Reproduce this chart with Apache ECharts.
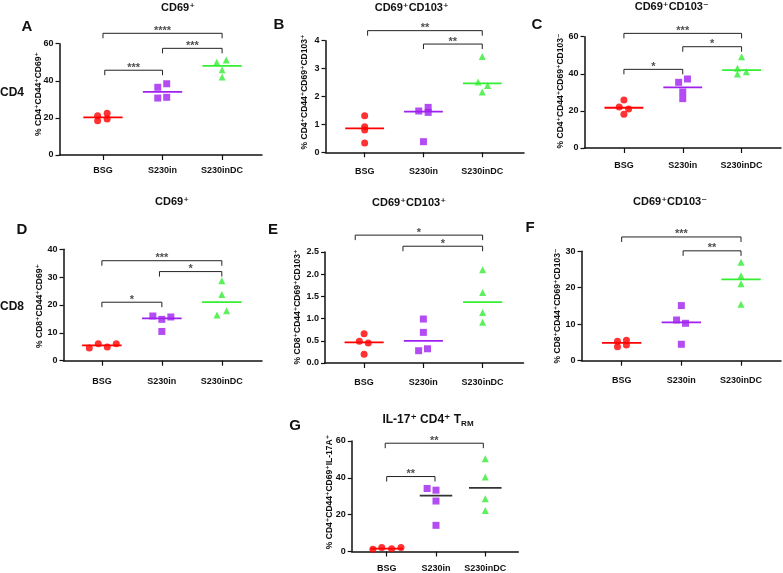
<!DOCTYPE html>
<html>
<head>
<meta charset="utf-8">
<script src="https://cdn.jsdelivr.net/npm/echarts@6/dist/echarts.min.js"></script>
<style>html,body{margin:0;padding:0;background:#fff}#c{width:783px;height:573px}</style>
</head>
<body>
<div id="c"></div>
<script>
// ---------- DATA ----------
const categories = ['BSG', 'S230in', 'S230inDC'];

// Panel A : CD4 CD69+
const aBSG = [21.2, 22.5, 18.5, 19.4];
const aS230in = [36.5, 38.4, 30.7, 31.1];
const aS230inDC = [50.0, 51.2, 46.0, 42.0];
const aMedians = [20.3, 34.0, 48.0];
const aTicks = [0, 20, 40, 60];
const aStats = [[1, 3, 65.6, '****'], [2, 3, 57.5, '***'], [1.03, 2, 45.7, '***']];

// Panel B : CD4 CD69+CD103+
const bBSG = [1.31, 0.92, 0.80, 0.33];
const bS230in = [1.48, 1.61, 1.43, 0.38];
const bS230inDC = [3.43, 2.52, 2.39, 2.16];
const bMedians = [0.86, 1.46, 2.47];
const bTicks = [0, 1, 2, 3, 4];
const bStats = [[1.05, 3, 4.36, '**'], [2, 3, 3.88, '**']];

// Panel C : CD4 CD69+CD103-
const cBSG = [22.1, 21.0, 25.9, 18.2];
const cS230in = [35.4, 37.2, 30.2, 26.6];
const cS230inDC = [49.2, 43.0, 41.1, 39.9];
const cMedians = [21.7, 32.7, 42.0];
const cTicks = [0, 20, 40, 60];
const cStats = [[1, 3, 61.8, '***'], [2, 3, 54.6, '*'], [1, 2, 42.4, '*']];

// Panel D : CD8 CD69+
const dBSG = [4.56, 6.1, 4.9, 6.1];
const dS230in = [16.05, 14.85, 15.7, 10.5];
const dS230inDC = [28.7, 23.8, 16.4, 17.95];
const dMedians = [5.5, 15.2, 21.0];
const dTicks = [0, 10, 20, 30, 40];
const dStats = [[1, 3, 35.9, '***'], [1.96, 3, 32.0, '*'], [1, 2, 21.0, '*']];

// Panel E : CD8 CD69+CD103+
const eBSG = [0.66, 0.49, 0.45, 0.196];
const eS230in = [0.99, 0.69, 0.277, 0.32];
const eS230inDC = [2.10, 1.59, 1.14, 0.92];
const eMedians = [0.466, 0.50, 1.37];
const eTicks = [0, 0.5, 1.0, 1.5, 2.0, 2.5];
const eStats = [[0.85, 3, 2.88, '*'], [1.656, 3, 2.63, '*']];

// Panel F : CD8 CD69+CD103-
const fBSG = [5.3, 5.6, 3.85, 4.3];
const fS230in = [15.1, 11.15, 10.25, 4.5];
const fS230inDC = [27.0, 23.3, 21.1, 15.45];
const fMedians = [4.9, 10.5, 22.3];
const fTicks = [0, 10, 20, 30];
const fStats = [[1, 3, 33.9, '***'], [2.03, 3, 30.1, '**']];

// Panel G : IL-17+ CD4+ TRM
const gBSG = [1.26, 2.16, 1.44, 2.16];
const gS230in = [34.2, 33.3, 27.4, 14.2];
const gS230inDC = [50.4, 40.4, 28.6, 22.3];
const gMedians = [1.6, 30.3, 34.6];
const gTicks = [0, 20, 40, 60];
const gStats = [[0.97, 2.96, 58.8, '**'], [1, 1.98, 40.7, '**']];

// horizontal spread of the dots inside each group (category units)
const aSpread = [[-0.09, 0.07, -0.09, 0.07], [-0.08, 0.07, -0.08, 0.07], [-0.09, 0.07, 0, 0]];
const bSpread = [[0, 0, 0, 0], [-0.08, 0.08, 0.08, 0], [0, -0.07, 0.09, 0]];
const cSpread = [[-0.08, 0.08, 0, 0], [-0.07, 0.08, 0, 0], [0, -0.07, 0.08, -0.07]];
const dSpread = [[-0.21, -0.06, 0.09, 0.24], [-0.15, 0, 0.15, 0], [0, 0, -0.08, 0.08]];
const eSpread = [[0, -0.08, 0.07, 0], [0, 0, -0.08, 0.07], [0, 0, 0, 0]];
const fSpread = [[-0.07, 0.08, -0.07, 0.08], [0, -0.08, 0.07, 0], [0, 0, 0, 0]];
const gSpread = [[-0.28, -0.10, 0.10, 0.29], [-0.18, 0, 0, 0], [0, 0, 0, 0]];

// ---------- LAYOUT ----------
const FONT = '"Liberation Sans", Arial, "DejaVu Sans", sans-serif';
const groupColors = ['#ff0000', '#a020f0', '#33ee33'];
const groupSymbols = ['circle', 'rect', 'triangle'];

const panels = [
  {groups: [aBSG, aS230in, aS230inDC], med: aMedians, ticks: aTicks, stats: aStats, spread: aSpread,
   x0: 59.5, x1: 262, y0: 43.7, y1: 155, xmin: 0.27, xmax: 3.67, lm: 11, dec: 0},
  {groups: [bBSG, bS230in, bS230inDC], med: bMedians, ticks: bTicks, stats: bStats, spread: bSpread,
   x0: 325.5, x1: 524, y0: 40.7, y1: 152.3, xmin: 0.334, xmax: 3.71, lm: 15, dec: 0},
  {groups: [cBSG, cS230in, cS230inDC], med: cMedians, ticks: cTicks, stats: cStats, spread: cSpread,
   x0: 584.5, x1: 781, y0: 36.7, y1: 148, xmin: 0.33, xmax: 3.67, lm: 13, dec: 0},
  {groups: [dBSG, dS230in, dS230inDC], med: dMedians, ticks: dTicks, stats: dStats, spread: dSpread,
   x0: 63.5, x1: 262, y0: 249.3, y1: 360.7, xmin: 0.36, xmax: 3.67, lm: 16, dec: 0},
  {groups: [eBSG, eS230in, eS230inDC], med: eMedians, ticks: eTicks, stats: eStats, spread: eSpread,
   x0: 325, x1: 523.5, y0: 252, y1: 363, xmin: 0.34, xmax: 3.69, lm: 15.5, dec: 1},
  {groups: [fBSG, fS230in, fS230inDC], med: fMedians, ticks: fTicks, stats: fStats, spread: fSpread,
   x0: 581.5, x1: 781, y0: 251.2, y1: 360.7, xmin: 0.327, xmax: 3.67, lm: 15.5, dec: 0},
  {groups: [gBSG, gS230in, gS230inDC], med: gMedians, ticks: gTicks, stats: gStats, spread: gSpread,
   x0: 351.7, x1: 518.3, y0: 441, y1: 552, xmin: 0.29, xmax: 3.67, lm: 12.5, dec: 0,
   medColors: ['#ff0000', '#333333', '#333333']}
];

const grid = [], xAxis = [], yAxis = [], series = [];
panels.forEach((p, i) => {
  const ymin = p.ticks[0], ymax = p.ticks[p.ticks.length - 1];
  const hPx = p.y1 - p.y0;
  grid.push({left: p.x0, top: p.y0, width: p.x1 - p.x0, height: hPx});
  xAxis.push({
    gridIndex: i, type: 'value', min: p.xmin, max: p.xmax,
    axisLine: {show: true, lineStyle: {color: '#111', width: 1.5}},
    axisTick: {show: true, customValues: [1, 2, 3], length: 5, lineStyle: {color: '#111', width: 1.2}},
    axisLabel: {customValues: [1, 2, 3], formatter: v => categories[Math.round(v) - 1],
      margin: p.lm, fontSize: 9, fontWeight: 'bold', color: '#111', fontFamily: FONT},
    splitLine: {show: false}
  });
  yAxis.push({
    gridIndex: i, type: 'value', min: ymin, max: ymax, interval: p.ticks[1] - p.ticks[0],
    axisLine: {show: true, lineStyle: {color: '#111', width: 1.5}},
    axisTick: {show: true, length: 4, lineStyle: {color: '#111', width: 1.2}},
    axisLabel: {margin: 6, fontSize: 9, fontWeight: 'bold', color: '#111', fontFamily: FONT,
      formatter: v => v.toFixed(p.dec)},
    splitLine: {show: false}
  });
  // dots
  p.groups.forEach((vals, g) => {
    series.push({
      type: 'scatter', xAxisIndex: i, yAxisIndex: i, symbol: groupSymbols[g], symbolSize: g === 0 ? 7 : 7,
      itemStyle: {color: groupColors[g]}, silent: true, z: 3,
      data: vals.map((v, k) => [g + 1 + p.spread[g][k], v])
    });
  });
  // median lines
  p.med.forEach((m, g) => {
    series.push({
      type: 'line', xAxisIndex: i, yAxisIndex: i, symbol: 'none', silent: true, z: 2,
      lineStyle: {color: (p.medColors || groupColors)[g], width: 1.8},
      data: [[g + 1 - 0.33, m], [g + 1 + 0.33, m]]
    });
  });
  // significance brackets
  const drop = 5 * (ymax - ymin) / hPx;
  p.stats.forEach(s => {
    series.push({
      type: 'line', xAxisIndex: i, yAxisIndex: i, symbol: 'none', silent: true, clip: false,
      lineStyle: {color: '#222', width: 1}, z: 2,
      data: [[s[0], s[2] - drop], [s[0], s[2]], [s[1], s[2]], [s[1], s[2] - drop]]
    });
    series.push({
      type: 'scatter', xAxisIndex: i, yAxisIndex: i, symbolSize: 0, silent: true, clip: false,
      label: {show: true, position: 'top', distance: -3, formatter: s[3], fontSize: 11,
        color: '#222', fontFamily: FONT, fontWeight: 'bold'},
      data: [[(s[0] + s[1]) / 2, s[2]]]
    });
  });
});

// ---------- TEXT ----------
function txt(text, x, y, font, rot) {
  return {type: 'text', x: x, y: y, rotation: rot || 0, silent: true,
    style: {text: text, fill: '#111', font: font, textAlign: 'center', textVerticalAlign: 'middle'}};
}
const titleFont = 'bold 11px ' + FONT;
const letterFont = 'bold 15px ' + FONT;
const yNameFont = 'bold 8.5px ' + FONT;
const graphic = [
  txt('CD69⁺', 178, 8, titleFont),
  txt('CD69⁺CD103⁺', 411.7, 8, titleFont),
  txt('CD69⁺CD103⁻', 671.7, 7, titleFont),
  txt('CD69⁺', 172, 202, titleFont),
  txt('CD69⁺CD103⁺', 409, 203, titleFont),
  txt('CD69⁺CD103⁻', 670, 202, titleFont),
  {type: 'text', x: 428, y: 420, silent: true,
   style: {text: 'IL-17⁺ CD4⁺ T{s|RM}', fill: '#111', font: 'bold 12px ' + FONT,
     textAlign: 'center', textVerticalAlign: 'middle',
     rich: {s: {fontSize: 8, fontWeight: 'bold', fontFamily: FONT, fill: '#111', padding: [7, 0, 0, 0]}}}},
  txt('A', 27, 27, letterFont), txt('B', 279, 25, letterFont), txt('C', 537, 25, letterFont),
  txt('D', 22, 230, letterFont), txt('E', 273, 230, letterFont), txt('F', 530, 228, letterFont),
  txt('G', 295, 426, letterFont),
  txt('CD4', 12, 93, 'bold 12px ' + FONT), txt('CD8', 12, 307, 'bold 12px ' + FONT),
  txt('% CD4⁺CD44⁺CD69⁺', 39, 94, yNameFont, Math.PI / 2),
  txt('% CD4⁺CD44⁺CD69⁺CD103⁺', 305, 92, yNameFont, Math.PI / 2),
  txt('% CD4⁺CD44⁺CD69⁺CD103⁻', 561, 91, yNameFont, Math.PI / 2),
  txt('% CD8⁺CD44⁺CD69⁺', 39.5, 306, yNameFont, Math.PI / 2),
  txt('% CD8⁺CD44⁺CD69⁺CD103⁺', 297.5, 307, yNameFont, Math.PI / 2),
  txt('% CD8⁺CD44⁺CD69⁺CD103⁻', 557.5, 306, yNameFont, Math.PI / 2),
  txt('% CD4⁺CD44⁺CD69⁺IL-17A⁺', 330, 492, yNameFont, Math.PI / 2)
];

const chart = echarts.init(document.getElementById('c'), null, {renderer: 'canvas'});
chart.setOption({
  animation: false, backgroundColor: '#fff',
  grid: grid, xAxis: xAxis, yAxis: yAxis, series: series, graphic: graphic
});
</script>
</body>
</html>
